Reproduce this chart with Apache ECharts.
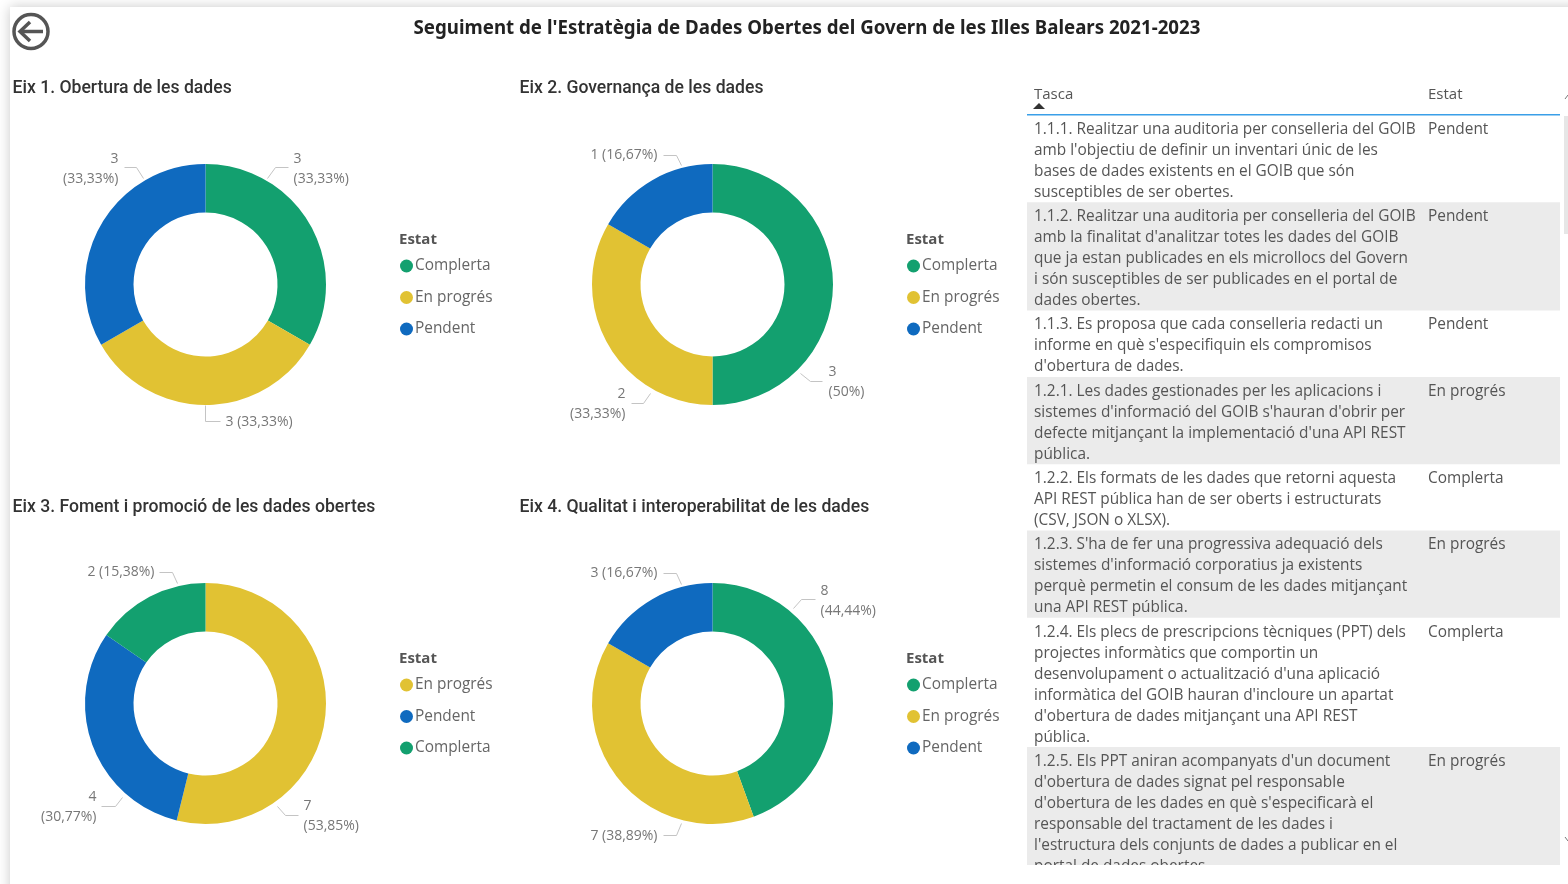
<!DOCTYPE html>
<html lang="ca">
<head>
    <meta charset="utf-8">
    <title>Seguiment de l'Estratègia de Dades Obertes</title>
    <script src="https://cdn.jsdelivr.net/npm/echarts@6/dist/echarts.min.js"></script>
    <style>
        html, body { margin: 0; padding: 0; background: #fff; }
        #main { width: 1568px; height: 884px; }
    </style>
</head>
<body>
<div id="main"></div>
<script type="text/javascript">
    var mainTitle = "Seguiment de l'Estratègia de Dades Obertes del Govern de les Illes Balears 2021-2023";

    // donuts: one small list per eix
    var eixTitles = ['Eix 1. Obertura de les dades', 'Eix 2. Governança de les dades',
        'Eix 3. Foment i promoció de les dades obertes', 'Eix 4. Qualitat i interoperabilitat de les dades'];
    var eix1Names = ['Complerta', 'En progrés', 'Pendent'];
    var eix1Values = [3, 3, 3];
    var eix1Labels = ['3\n(33,33%)', '3 (33,33%)', '3\n(33,33%)'];
    var eix2Names = ['Complerta', 'En progrés', 'Pendent'];
    var eix2Values = [3, 2, 1];
    var eix2Labels = ['3\n(50%)', '2\n(33,33%)', '1 (16,67%)'];
    var eix3Names = ['En progrés', 'Pendent', 'Complerta'];
    var eix3Values = [7, 4, 2];
    var eix3Labels = ['7\n(53,85%)', '4\n(30,77%)', '2 (15,38%)'];
    var eix4Names = ['Complerta', 'En progrés', 'Pendent'];
    var eix4Values = [8, 7, 3];
    var eix4Labels = ['8\n(44,44%)', '7 (38,89%)', '3 (16,67%)'];

    // table
    var tableHeader = ['Tasca', 'Estat'];
    var taskTexts = [
        "1.1.1. Realitzar una auditoria per conselleria del GOIB\namb l'objectiu de definir un inventari únic de les\nbases de dades existents en el GOIB que són\nsusceptibles de ser obertes.",
        "1.1.2. Realitzar una auditoria per conselleria del GOIB\namb la finalitat d'analitzar totes les dades del GOIB\nque ja estan publicades en els microllocs del Govern\ni són susceptibles de ser publicades en el portal de\ndades obertes.",
        "1.1.3. Es proposa que cada conselleria redacti un\ninforme en què s'especifiquin els compromisos\nd'obertura de dades.",
        "1.2.1. Les dades gestionades per les aplicacions i\nsistemes d'informació del GOIB s'hauran d'obrir per\ndefecte mitjançant la implementació d'una API REST\npública.",
        "1.2.2. Els formats de les dades que retorni aquesta\nAPI REST pública han de ser oberts i estructurats\n(CSV, JSON o XLSX).",
        "1.2.3. S'ha de fer una progressiva adequació dels\nsistemes d'informació corporatius ja existents\nperquè permetin el consum de les dades mitjançant\nuna API REST pública.",
        "1.2.4. Els plecs de prescripcions tècniques (PPT) dels\nprojectes informàtics que comportin un\ndesenvolupament o actualització d'una aplicació\ninformàtica del GOIB hauran d'incloure un apartat\nd'obertura de dades mitjançant una API REST\npública.",
        "1.2.5. Els PPT aniran acompanyats d'un document\nd'obertura de dades signat pel responsable\nd'obertura de les dades en què s'especificarà el\nresponsable del tractament de les dades i\nl'estructura dels conjunts de dades a publicar en el\nportal de dades obertes."
    ];
    var taskStates = ['Pendent', 'Pendent', 'Pendent', 'En progrés', 'Complerta', 'En progrés', 'Complerta', 'En progrés'];

    var estatColors = { 'Complerta': '#13a06f', 'En progrés': '#e1c233', 'Pendent': '#0f6abf' };
    var labelFont = '"Open Sans", "Noto Sans", sans-serif';
    var headFont = 'Roboto, "Noto Sans", sans-serif';

    // label place and leader line of each slice, relative to the donut centre
    var labelSpots = [
        [[88, -115, 'left', [[62, -106], [70, -117], [83, -117]]],
         [20, 138, 'left', [[0, 121], [0, 137], [15, 137]]],
         [-87, -115, 'right', [[-62, -106], [-69, -117], [-81, -117]]]],
        [[116, 98, 'left', [[88, 89], [98, 97], [110, 97]]],
         [-87, 120, 'right', [[-62, 109], [-69, 119], [-81, 119]]],
         [-55, -129, 'right', [[-31, -119], [-36, -129], [-49, -129]]]],
        [[98, 113, 'left', [[72, 103], [80, 112], [93, 112]]],
         [-109, 104, 'right', [[-83, 94], [-90, 103], [-104, 103]]],
         [-51, -131, 'right', [[-28, -120], [-33, -131], [-46, -131]]]],
        [[108, -102, 'left', [[81, -95], [89, -104], [103, -104]]],
         [-55, 133, 'right', [[-31, 120], [-36, 132], [-49, 132]]],
         [-55, -130, 'right', [[-31, -119], [-36, -130], [-49, -130]]]]
    ];
    var centers = [[205.5, 284.5], [712.5, 284.5], [205.5, 703.5], [712.5, 703.5]];
    var allNames = [eix1Names, eix2Names, eix3Names, eix4Names];
    var allValues = [eix1Values, eix2Values, eix3Values, eix4Values];
    var allLabels = [eix1Labels, eix2Labels, eix3Labels, eix4Labels];

    function buildPie(i) {
        var c = centers[i];
        return {
            type: 'pie',
            center: c,
            radius: [72, 120.5],
            startAngle: 90,
            clockwise: true,
            silent: true,
            animation: false,
            data: allNames[i].map(function (n, j) {
                return {
                    name: n,
                    value: allValues[i][j],
                    itemStyle: { color: estatColors[n] },
                    label: { formatter: allLabels[i][j] }
                };
            }),
            label: {
                show: true,
                color: '#777',
                fontFamily: labelFont,
                fontSize: 14,
                lineHeight: 20,
                overflow: 'none'
            },
            labelLine: { show: true, lineStyle: { color: '#c4c4c4', width: 1 } },
            labelLayout: function (p) {
                var s = labelSpots[i][p.dataIndex];
                return {
                    x: c[0] + s[0],
                    y: c[1] + s[1],
                    align: s[2],
                    verticalAlign: 'middle',
                    labelLinePoints: s[3].map(function (q) { return [c[0] + q[0], c[1] + q[1]]; })
                };
            }
        };
    }

    function buildLegend(i) {
        return {
            data: allNames[i],
            orient: 'vertical',
            left: Math.floor(centers[i][0]) + 190,
            top: Math.floor(centers[i][1]) - 34,
            icon: 'circle',
            itemWidth: 13,
            itemHeight: 13,
            itemGap: 9.5,
            selectedMode: false,
            textStyle: { color: '#666', fontFamily: labelFont, fontSize: 15.4, padding: [0, 0, 0, -3], height: 22, lineHeight: 22 }
        };
    }

    // table drawn as graphic elements
    var graphics = [
        { type: 'rect', z: -10, shape: { x: 10, y: 7, width: 1570, height: 900 },
          style: { fill: '#fff', shadowBlur: 12, shadowColor: 'rgba(0,0,0,0.22)' } },
        { type: 'circle', shape: { cx: 31, cy: 31.5, r: 17 }, style: { fill: 'none', stroke: '#555', lineWidth: 3.5 } },
        { type: 'polyline', shape: { points: [[30, 22], [20, 31.5], [30, 41]] }, style: { fill: 'none', stroke: '#555', lineWidth: 3.5 } },
        { type: 'line', shape: { x1: 20, y1: 31.5, x2: 43, y2: 31.5 }, style: { stroke: '#555', lineWidth: 3.5 } }
    ];
    centers.forEach(function (c) {
        graphics.push({ type: 'text', x: Math.floor(c[0]) + 194, y: Math.floor(c[1]) - 52,
            style: { text: 'Estat', fill: '#555', font: 'bold 15px ' + labelFont } });
    });
    graphics.push(
        { type: 'text', x: 1034, y: 87, style: { text: tableHeader[0], fill: '#555', font: '15px ' + labelFont } },
        { type: 'text', x: 1428, y: 87, style: { text: tableHeader[1], fill: '#555', font: '15px ' + labelFont } },
        { type: 'polygon', shape: { points: [[1033, 109], [1039, 103], [1045, 109]] }, style: { fill: '#333' } },
        { type: 'rect', shape: { x: 1027, y: 114, width: 533, height: 1.5 }, style: { fill: '#3a9fe8' } }
    );
    var rowTop = 116;
    taskTexts.forEach(function (t, k) {
        var rowH = t.split('\n').length * 21 + 3.3;
        if (k % 2 === 1) {
            graphics.push({ type: 'rect', shape: { x: 1027, y: rowTop - 1, width: 533, height: rowH }, style: { fill: '#ebebeb' } });
        }
        graphics.push(
            { type: 'text', x: 1034, y: rowTop + 3, style: { text: t, fill: '#555', font: '15.4px ' + labelFont, lineHeight: 21 } },
            { type: 'text', x: 1428, y: rowTop + 3, style: { text: taskStates[k], fill: '#555', font: '15.4px ' + labelFont, lineHeight: 21 } }
        );
        rowTop += rowH;
    });
    // table viewport ends here, the last row is cut off
    graphics.push(
        { type: 'rect', z: 10, shape: { x: 1020, y: 865, width: 548, height: 19 }, style: { fill: '#fff' } },
        { type: 'rect', z: 10, shape: { x: 1564, y: 116, width: 4, height: 118 }, style: { fill: '#e6e6e6' } },
        { type: 'polyline', z: 10, shape: { points: [[1565, 99], [1568, 95]] }, style: { fill: 'none', stroke: '#777' } },
        { type: 'polyline', z: 10, shape: { points: [[1565, 837], [1568, 841]] }, style: { fill: 'none', stroke: '#777' } }
    );

    var myChart = echarts.init(document.getElementById('main'));
    var option = {
        animation: false,
        title: [{
            text: mainTitle,
            left: 802,
            top: 14,
            textAlign: 'center',
            textStyle: { color: '#222', fontFamily: '"Noto Sans", sans-serif', fontWeight: 'bold', fontSize: 18.7 }
        }].concat(eixTitles.map(function (t, i) {
            return {
                text: t,
                left: Math.floor(centers[i][0]) - 192.5,
                top: Math.floor(centers[i][1]) - 204,
                padding: 0,
                textStyle: { color: '#333', fontFamily: headFont, fontWeight: 500, fontSize: 17.6 }
            };
        })),
        legend: [0, 1, 2, 3].map(buildLegend),
        series: [0, 1, 2, 3].map(buildPie),
        graphic: graphics
    };
    myChart.setOption(option);
</script>
</body>
</html>
